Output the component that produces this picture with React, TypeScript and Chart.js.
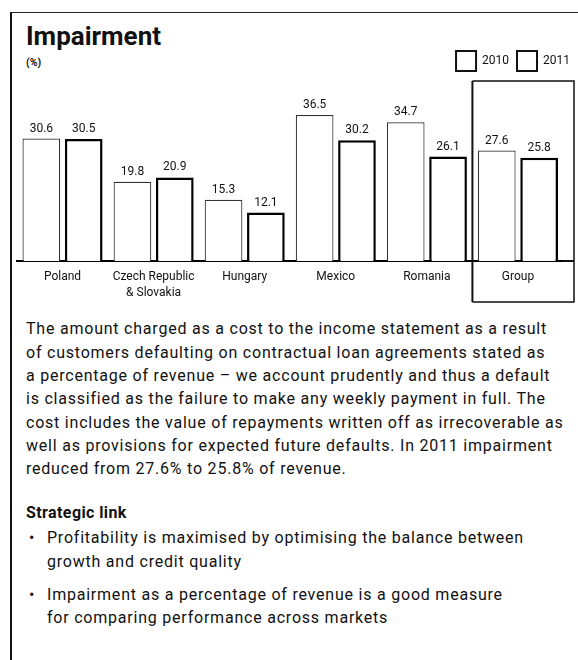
import React, { useEffect, useRef } from "react";
import { Chart, registerables } from "chart.js";

Chart.register(...registerables);

// ---- data ----
const categories: (string | string[])[] = [
  "Poland",
  ["Czech Republic", "& Slovakia"],
  "Hungary",
  "Mexico",
  "Romania",
  "Group",
];
const seriesNames = ["2010", "2011"];
const values2010 = [30.6, 19.8, 15.3, 36.5, 34.7, 27.6];
const values2011 = [30.5, 20.9, 12.1, 30.2, 26.1, 25.8];
const yMin = 0;
const yMax = 45;

const FONT = "Roboto, 'DejaVu Sans', sans-serif";

const paragraphLines = [
  "The amount charged as a cost to the income statement as a result",
  "of customers defaulting on contractual loan agreements stated as",
  "a percentage of revenue – we account prudently and thus a default",
  "is classified as the failure to make any weekly payment in full. The",
  "cost includes the value of repayments written off as irrecoverable as",
  "well as provisions for expected future defaults. In 2011 impairment",
  "reduced from 27.6% to 25.8% of revenue.",
];
const bullets = [
  ["Profitability is maximised by optimising the balance between", "growth and credit quality"],
  ["Impairment as a percentage of revenue is a good measure", "for comparing performance across markets"],
];

const valueLabels = {
  id: "valueLabels",
  afterDatasetsDraw(chart: any) {
    const ctx = chart.ctx;
    ctx.save();
    ctx.font = `12px ${FONT}`;
    ctx.fillStyle = "#111";
    ctx.textAlign = "center";
    ctx.textBaseline = "bottom";
    chart.data.datasets.forEach((ds: any, i: number) => {
      const meta = chart.getDatasetMeta(i);
      meta.data.forEach((el: any, j: number) => {
        ctx.fillText(Number(ds.data[j]).toFixed(1), el.x, el.y - 4);
      });
    });
    ctx.restore();
  },
};

const groupBox = {
  id: "groupBox",
  afterDraw(chart: any) {
    const { ctx, chartArea, scales } = chart;
    const xs = scales.x;
    const n = chart.data.labels.length;
    const left = (xs.getPixelForValue(n - 2) + xs.getPixelForValue(n - 1)) / 2;
    const right = chartArea.right + 10.5;
    const top = chartArea.top;
    const bottom = chartArea.bottom + 41;
    ctx.save();
    ctx.strokeStyle = "#111";
    ctx.lineWidth = 1.5;
    ctx.beginPath();
    ctx.moveTo(left, top);
    ctx.lineTo(right, top);
    ctx.lineTo(right, bottom);
    ctx.lineTo(left, bottom);
    ctx.stroke();
    ctx.lineWidth = 2;
    ctx.beginPath();
    ctx.moveTo(left, top);
    ctx.lineTo(left, bottom);
    ctx.stroke();
    ctx.beginPath();
    ctx.moveTo(chartArea.right - 1, chartArea.bottom);
    ctx.lineTo(right, chartArea.bottom);
    ctx.stroke();
    ctx.restore();
  },
};

function ImpairmentChart() {
  const ref = useRef<HTMLCanvasElement | null>(null);
  useEffect(() => {
    if (!ref.current) return;
    Chart.defaults.font.family = FONT;
    const chart = new Chart(ref.current, {
      type: "bar",
      data: {
        labels: categories as any,
        datasets: [
          {
            label: seriesNames[0],
            data: values2010,
            backgroundColor: "#ffffff",
            borderColor: "#333",
            borderWidth: 1.2,
            categoryPercentage: 0.93,
            barPercentage: 0.89,
          },
          {
            label: seriesNames[1],
            data: values2011,
            backgroundColor: "#ffffff",
            borderColor: "#000",
            borderWidth: 2.5,
            categoryPercentage: 0.93,
            barPercentage: 0.89,
          },
        ],
      },
      options: {
        responsive: false,
        animation: false,
        layout: { padding: { left: 6, top: 3, right: 0, bottom: 9 } },
        plugins: {
          title: { display: false },
          tooltip: { enabled: false },
          legend: {
            display: true,
            position: "top",
            align: "end",
            labels: {
              boxWidth: 20,
              boxHeight: 20,
              padding: 8,
              color: "#111",
              font: { size: 12, family: FONT },
              generateLabels: (chart: any) =>
                Chart.defaults.plugins.legend.labels
                  .generateLabels(chart)
                  .map((l: any) => ({ ...l, lineWidth: 2, strokeStyle: "#111" })),
            },
          },
        },
        scales: {
          x: {
            grid: { display: false, drawTicks: false },
            border: { display: true, color: "#000", width: 2 },
            ticks: {
              color: "#111",
              padding: 8,
              maxRotation: 0,
              autoSkip: false,
              font: { size: 12, family: FONT, lineHeight: 1.35 },
            },
            afterFit: (scale: any) => {
              scale.height = 40;
            },
          },
          y: {
            position: "right",
            min: yMin,
            max: yMax,
            display: true,
            grid: { display: false, drawTicks: false },
            border: { display: false },
            ticks: { display: false },
            afterFit: (scale: any) => {
              scale.width = 14.5;
            },
          },
        },
      },
      plugins: [valueLabels, groupBox],
    });
    return () => chart.destroy();
  }, []);
  return <canvas ref={ref} width={567} height={270} style={{ width: 567, height: 270, display: "block" }} />;
}

export default function App() {
  const textStyle: React.CSSProperties = {
    position: "absolute",
    fontFamily: FONT,
    fontSize: 16,
    lineHeight: "23px",
    color: "#111",
    whiteSpace: "nowrap",
    letterSpacing: 0.78,
  };
  const paraTops = [317, 341, 364, 387, 411, 434, 457];
  const bulletTops = [[526, 550], [583, 606]];
  return (
    <div style={{ position: "absolute", left: 0, top: 0, width: 578, height: 660, background: "#fff", overflow: "hidden" }}>
      <div
        style={{
          position: "absolute",
          left: 10,
          top: 12,
          width: 568,
          height: 660,
          borderLeft: "2px solid #111",
          borderTop: "1.5px solid #222",
        }}
      />
      <div
        style={{
          position: "absolute",
          left: 26,
          top: 23,
          fontFamily: FONT,
          fontWeight: 700,
          fontSize: 26,
          lineHeight: "26px",
          color: "#111",
        }}
      >
        Impairment
      </div>
      <div style={{ position: "absolute", left: 26, top: 57, fontFamily: FONT, fontSize: 10.5, fontWeight: 700, lineHeight: "12px", color: "#111" }}>
        (%)
      </div>
      <div style={{ position: "absolute", left: 11, top: 40 }}>
        <ImpairmentChart />
      </div>
      {paragraphLines.map((line, i) => (
        <div key={i} style={{ ...textStyle, left: 26, top: paraTops[i] }}>
          {line}
        </div>
      ))}
      <div style={{ ...textStyle, left: 26, top: 501, fontWeight: 700, letterSpacing: 0.4 }}>Strategic link</div>
      {bullets.map((b, i) => (
        <React.Fragment key={i}>
          <div style={{ ...textStyle, left: 29, top: bulletTops[i][0] }}>•</div>
          {b.map((line, k) => (
            <div key={k} style={{ ...textStyle, left: 47, top: bulletTops[i][k] }}>
              {line}
            </div>
          ))}
        </React.Fragment>
      ))}
    </div>
  );
}
